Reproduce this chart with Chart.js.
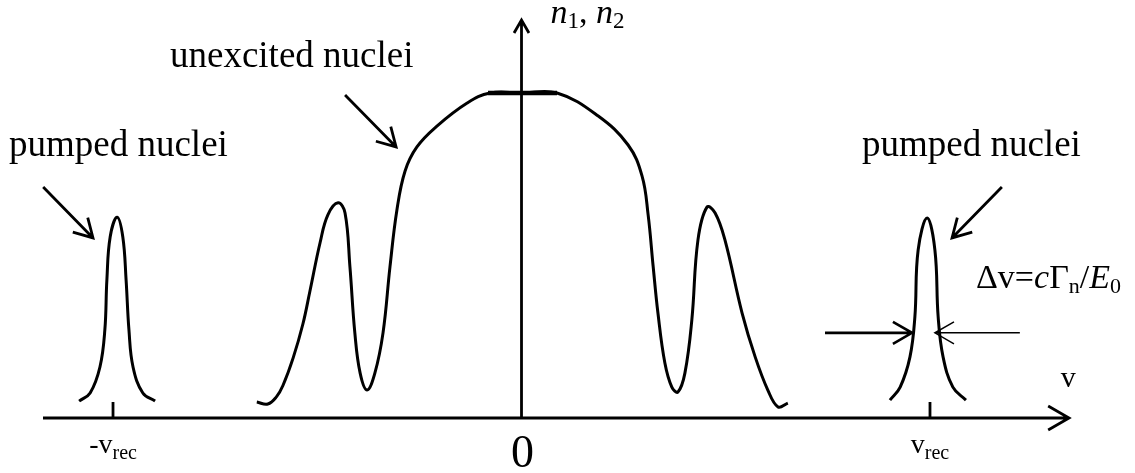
<!DOCTYPE html>
<html>
<head>
<meta charset="utf-8">
<script src="https://cdn.jsdelivr.net/npm/chart.js@4.4.1/dist/chart.umd.min.js"></script>
<style>
  html, body { margin: 0; padding: 0; background: #fff; }
  #wrap { width: 1135px; height: 473px; }
</style>
</head>
<body>
<div id="wrap"><canvas id="chart" width="1135" height="473"></canvas></div>
<script>
// velocity in units of v_rec, population normalised to the plateau
const centralX = [-0.648, -0.621, -0.600, -0.584, -0.559, -0.535, -0.518, -0.493, -0.474, -0.449, -0.432,
  -0.420, -0.408, -0.395, -0.378, -0.359, -0.339, -0.322, -0.305, -0.285, -0.256, -0.207, -0.133,
  -0.077, 0.0, 0.087, 0.187, 0.261, 0.295, 0.310, 0.322, 0.334, 0.351, 0.368, 0.383, 0.400, 0.417,
  0.432, 0.454, 0.474, 0.498, 0.540, 0.572, 0.603, 0.628, 0.652];
const centralY = [0.049, 0.043, 0.065, 0.100, 0.185, 0.290, 0.390, 0.540, 0.625, 0.662, 0.631,
  0.465, 0.262, 0.138, 0.086, 0.138, 0.262, 0.465, 0.640, 0.760, 0.834, 0.898, 0.969,
  1.0, 1.0, 1.0, 0.930, 0.840, 0.745, 0.625, 0.470, 0.323, 0.169, 0.095, 0.080, 0.138, 0.302,
  0.548, 0.649, 0.631, 0.548, 0.323, 0.188, 0.086, 0.034, 0.046];

const leftPeakX = [-1.083, -1.056, -1.032, -1.020, -1.015, -1.007, -0.990, -0.976, -0.968, -0.961, -0.951, -0.927, -0.897];
const leftPeakY = [0.052, 0.077, 0.157, 0.271, 0.425, 0.557, 0.618, 0.557, 0.425, 0.271, 0.157, 0.077, 0.052];

const rightPeakX = [0.902, 0.927, 0.951, 0.963, 0.971, 0.993, 1.012, 1.020, 1.032, 1.056, 1.088];
const rightPeakY = [0.055, 0.095, 0.188, 0.311, 0.517, 0.615, 0.517, 0.311, 0.188, 0.095, 0.055];

const plateauX = [-0.082, 0.087];
const plateauY = [1.0, 1.0];

const tickValues = [-1, 0, 1];
const tickLabels = [['-v', 'rec'], ['0', ''], ['v', 'rec']];

const SERIF = '"Liberation Serif", "Times New Roman", serif';

function pts(xs, ys) {
  return xs.map(function (x, i) { return { x: x, y: ys[i] }; });
}

function curve(xs, ys, width, tension) {
  return {
    data: pts(xs, ys),
    borderColor: '#000',
    borderWidth: width,
    pointRadius: 0,
    fill: false,
    tension: tension,
    clip: false,
  };
}

// ── drawing helpers ──────────────────────────────────────────────────────────
function arrow(ctx, x1, y1, x2, y2, width, head) {
  const a = Math.atan2(y2 - y1, x2 - x1);
  const spread = 0.52;
  ctx.save();
  ctx.strokeStyle = '#000';
  ctx.lineWidth = width;
  ctx.lineCap = 'butt';
  ctx.beginPath();
  ctx.moveTo(x1, y1);
  ctx.lineTo(x2, y2);
  ctx.moveTo(x2 - head * Math.cos(a - spread), y2 - head * Math.sin(a - spread));
  ctx.lineTo(x2, y2);
  ctx.lineTo(x2 - head * Math.cos(a + spread), y2 - head * Math.sin(a + spread));
  ctx.stroke();
  ctx.restore();
}

// draws a run of [text, font, dy] pieces left to right, returns end x
function runs(ctx, x, y, parts) {
  parts.forEach(function (p) {
    ctx.font = p[1];
    ctx.fillText(p[0], x, y + (p[2] || 0));
    x += ctx.measureText(p[0]).width;
  });
  return x;
}

function runsWidth(ctx, parts) {
  let w = 0;
  parts.forEach(function (p) { ctx.font = p[1]; w += ctx.measureText(p[0]).width; });
  return w;
}

const schematic = {
  id: 'schematic',
  afterDraw: function (chart) {
    const ctx = chart.ctx;
    const sx = chart.scales.x, sy = chart.scales.y;
    const X = function (v) { return sx.getPixelForValue(v); };
    const Y = function (v) { return sy.getPixelForValue(v); };
    const y0 = Y(0), x0 = X(0);

    ctx.save();
    ctx.fillStyle = '#000';
    ctx.textBaseline = 'alphabetic';

    // axes with arrows
    arrow(ctx, sx.left, y0, sx.right, y0, 2.8, 24);
    arrow(ctx, x0, y0, x0, sy.top, 2.8, 15);

    // ticks and their labels
    ctx.lineWidth = 2.8;
    tickValues.forEach(function (v, i) {
      const lab = tickLabels[i];
      if (v !== 0) {
        ctx.beginPath();
        ctx.moveTo(X(v), y0);
        ctx.lineTo(X(v), y0 - 16);
        ctx.stroke();
        const parts = [[lab[0], '28px ' + SERIF, 0], [lab[1], '20px ' + SERIF, 6]];
        runs(ctx, X(v) - runsWidth(ctx, parts) / 2, y0 + 35, parts);
      } else {
        ctx.font = '46px ' + SERIF;
        ctx.textAlign = 'center';
        ctx.fillText(lab[0], x0 + 1, y0 + 49);
        ctx.textAlign = 'left';
      }
    });

    // axis titles
    runs(ctx, x0 + 29, 23, [
      ['n', 'italic 34px ' + SERIF, 0], ['1', '23px ' + SERIF, 5], [', ', '34px ' + SERIF, 0],
      ['n', 'italic 34px ' + SERIF, 0], ['2', '23px ' + SERIF, 5]
    ]);
    ctx.font = '30px ' + SERIF;
    ctx.fillText('v', X(1.32), Y(0.095));

    // annotations
    ctx.font = '37px ' + SERIF;
    ctx.fillText('unexcited nuclei', 170, 67);
    ctx.fillText('pumped nuclei', 9, 156);
    ctx.fillText('pumped nuclei', 862, 156);

    arrow(ctx, X(-1.171), Y(0.711), X(-1.049), Y(0.554), 2.8, 21);
    arrow(ctx, X(-0.432), Y(0.994), X(-0.307), Y(0.834), 2.8, 21);
    arrow(ctx, X(1.176), Y(0.711), X(1.054), Y(0.554), 2.8, 21);

    // line width marker
    arrow(ctx, X(0.743), Y(0.262), X(0.956), Y(0.262), 2.6, 22);
    arrow(ctx, X(1.220), Y(0.262), X(1.012), Y(0.262), 1.5, 22);
    runs(ctx, 976, 288, [
      ['\u0394v=', '34px ' + SERIF, 0], ['c', 'italic 34px ' + SERIF, 0], ['\u0393', '34px ' + SERIF, 0],
      ['n', '22px ' + SERIF, 5], ['/', '34px ' + SERIF, 0], ['E', 'italic 34px ' + SERIF, 0],
      ['0', '22px ' + SERIF, 5]
    ]);
    ctx.restore();
  }
};

new Chart(document.getElementById('chart'), {
  type: 'line',
  data: {
    datasets: [
      curve(centralX, centralY, 3, 0.4),
      curve(leftPeakX, leftPeakY, 3, 0.4),
      curve(rightPeakX, rightPeakY, 3, 0.4),
      curve(plateauX, plateauY, 4.5, 0),
    ]
  },
  options: {
    responsive: false,
    animation: false,
    devicePixelRatio: 1,
    layout: { padding: { left: 43, right: 66, top: 20, bottom: 55 } },
    plugins: { legend: { display: false }, tooltip: { enabled: false } },
    scales: {
      x: { type: 'linear', min: -1.1714, max: 1.3403, display: false },
      y: { type: 'linear', min: 0, max: 1.2246, display: false }
    }
  },
  plugins: [schematic]
});
</script>
</body>
</html>
